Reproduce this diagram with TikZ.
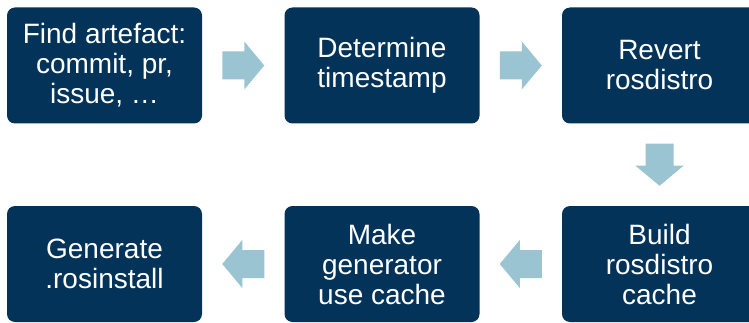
\documentclass[tikz,border=0pt]{standalone}
\usepackage{fontspec}
\setmainfont{Liberation Sans}
\usetikzlibrary{calc}
\definecolor{navy}{RGB}{3,51,89}
\definecolor{arrowblue}{RGB}{155,196,210}
\tikzset{
  stepbox/.style={fill=navy, rounded corners=8pt, minimum width=195pt, minimum height=116pt,
    inner sep=0pt, text=white, align=center, font=\fontsize{28}{30}\selectfont},
  blockarrow/.style={fill=arrowblue}
}
\newcommand\blockarrowat[2]{%
  \fill[blockarrow, shift={(#1)}, rotate=#2]
    (-21,14) -- (1,14) -- (1,24) -- (21,0) -- (1,-24) -- (1,-14) -- (-21,-14) -- cycle;}
\begin{document}
\begin{tikzpicture}[x=1pt,y=1pt]
\useasboundingbox (0,0) rectangle (749,-323);
\clip (0,0) rectangle (749,-323);
\node[stepbox] (b1) at (104.5,-65.5) {Find artefact:\\commit, pr,\\issue, …};
\node[stepbox] (b2) at (382,-65.5) {Determine\\timestamp};
\node[stepbox] (b3) at (659.5,-65.5) {Revert\\rosdistro};
\node[stepbox] (b4) at (104.5,-264) {Generate\\.rosinstall};
\node[stepbox] (b5) at (382,-264) {Make\\generator\\use cache};
\node[stepbox] (b6) at (659.5,-264) {Build\\rosdistro\\cache};
\coordinate (a12) at ($(b1.east)!0.5!(b2.west)$);
\coordinate (a23) at ($(b2.east)!0.5!(b3.west)$);
\coordinate (a36) at ($(b3.south)!0.5!(b6.north)$);
\coordinate (a65) at ($(b6.west)!0.5!(b5.east)$);
\coordinate (a54) at ($(b5.west)!0.5!(b4.east)$);
\blockarrowat{a12}{0}
\blockarrowat{a23}{0}
\blockarrowat{a36}{-90}
\blockarrowat{a65}{180}
\blockarrowat{a54}{180}
\end{tikzpicture}
\end{document}
